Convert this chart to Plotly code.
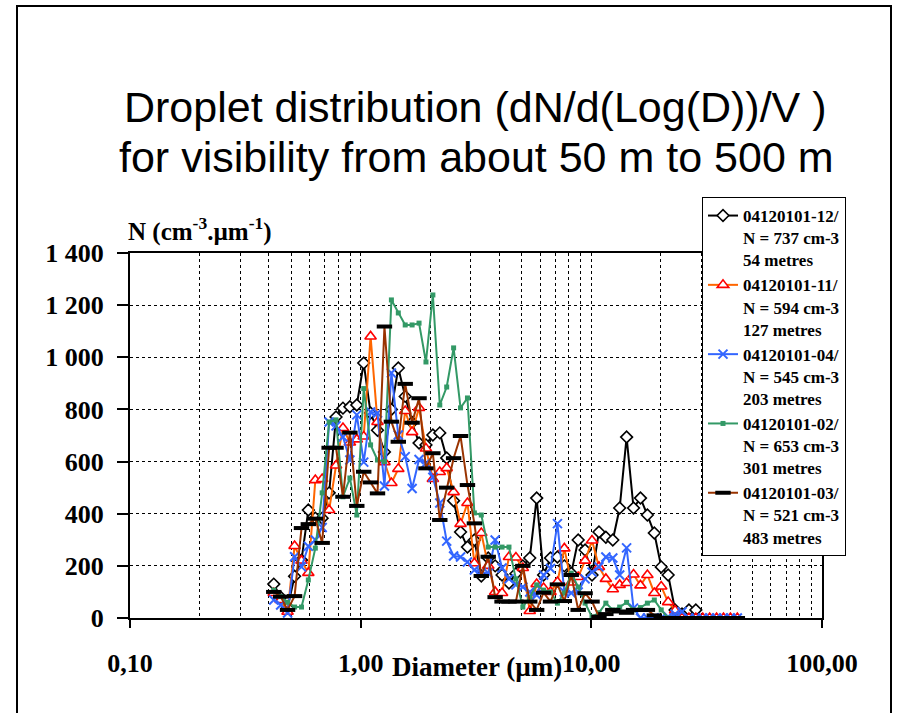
import plotly.graph_objects as go

# ---------------- data ----------------
diameters = [0.42, 0.45, 0.482, 0.517, 0.554, 0.593, 0.636, 0.681, 0.730, 0.782,
             0.838, 0.898, 0.962, 1.031, 1.104, 1.183, 1.268, 1.359, 1.456, 1.560,
             1.671, 1.791, 1.919, 2.056, 2.203, 2.360, 2.529, 2.710, 2.904, 3.112,
             3.334, 3.573, 3.828, 4.102, 4.395, 4.710, 5.047, 5.408, 5.794, 6.209,
             6.653, 7.129, 7.638, 8.185, 8.770, 9.397, 10.07, 10.79, 11.56, 12.39,
             13.27, 14.22, 15.24, 16.33, 17.50, 18.75, 20.09, 21.53, 23.07, 24.72,
             26.49, 28.38, 30.41, 32.58, 34.91, 37.41, 40.09, 42.95]

s12 = [130, 80, 40, 160, 222, 414, 383, 383, 480, 771,
       805, 810, 817, 978, 786, 720, 637, 800, 959, 850,
       750, 671, 664, 702, 710, 614, 450, 330, 272, 299,
       161, 230, 200, 165, 134, 170, 200, 230, 460, 165,
       230, 234, 200, 172, 299, 261, 165, 330, 310, 299,
       422, 694, 422, 460, 395, 326, 196, 165, 31, 15,
       31, 31, None, None, None, None, None, None]

s11 = [96, 69, 24, 276, 220, 173, 529, 533, 414, 585,
       729, 673, 685, 696, 1080, 752, 598, 518, 572, 794,
       713, 806, 650, 533, 560, 575, 483, 361, 441, 210,
       326, 200, 100, 96, 234, 232, 192, 27, 130, 115,
       100, 138, 267, 136, 157, 220, 297, 196, 150, 110,
       127, 134, 167, 125, 165, 96, 121, 61, 29, 0,
       0, 0, 0, 0, 0, 0, 0, 0]

s04 = [69, 50, 19, 235, 196, 275, 299, 347, 752, 737,
       694, 606, 779, 598, 790, 786, 506, 940, 702, 619,
       497, 608, 594, 540, 441, 295, 238, 234, 215, 184,
       175, 172, 299, 192, 150, 127, 119, 100, 88, 165,
       190, 362, 100, 96, 100, 150, 176, 196, 234, 230,
       165, 269, 38, 0, 0, 0, 0, 5, 15, 24,
       0, 0, 0, 0, 0, 0, 0, 0]

s02 = [107, 82, 60, 42, 42, 146, 268, 480, 752, 760,
       465, 537, 395, 880, 664, 606, 600, 1220, 1170, 1124,
       1124, 1131, 982, 1239, 817, 886, 1036, 806, 844, 403,
       395, 272, 272, 272, 272, 150, 42, 80, 127, 107,
       100, 57, 96, 172, 119, 57, 4, 20, 57, 31,
       42, 60, 31, 40, 57, 69, 31, 0, None, None,
       None, None, None, None, None, None, None, None]

s03 = [100, 82, 31, 84, 345, 360, 381, 288, 653, 653,
       465, 711, 430, 561, 520, 478, 1118, 753, 676, 898,
       749, 843, 574, 632, 376, 500, 613, 698, 510, 363,
       161, 235, 80, 63, 63, 63, 200, 63, 31, 97,
       63, 129, 65, 165, 31, 95, 63, 5, 15, 31,
       25, 20, 31, 31, 31, 10, 0, 0, 0, 0,
       0, 0, 0, 0, 0, 0, 0, 0]

series_names = [
    "04120101-12/<br>N = 737 cm-3<br>54 metres",
    "04120101-11/<br>N = 594 cm-3<br>127 metres",
    "04120101-04/<br>N = 545 cm-3<br>203 metres",
    "04120101-02/<br>N = 653 cm-3<br>301 metres",
    "04120101-03/<br>N = 521 cm-3<br>483 metres",
]
series_values = [s12, s11, s04, s02, s03]

x_tickvals = [0.1, 1, 10, 100]
x_ticktext = ["0,10", "1,00", "10,00", "100,00"]
x_minorvals = [0.2, 0.3, 0.4, 0.5, 0.6, 0.7, 0.8, 0.9,
               2, 3, 4, 5, 6, 7, 8, 9,
               20, 30, 40, 50, 60, 70, 80, 90]
y_tickvals = [0, 200, 400, 600, 800, 1000, 1200, 1400]
y_ticktext = ["0", "200", "400", "600", "800", "1 000", "1 200", "1 400"]

# ---------------- styles ----------------
styles = [
    dict(line=dict(color="black", width=2),
         marker=dict(symbol="diamond", size=9, color="white",
                     line=dict(color="black", width=1.6))),
    dict(line=dict(color="#FF6600", width=2),
         marker=dict(symbol="triangle-up", size=10, color="white",
                     line=dict(color="#FF0000", width=1.6))),
    dict(line=dict(color="#3366FF", width=2),
         marker=dict(symbol="x-thin", size=9, color="#3366FF",
                     line=dict(color="#3366FF", width=2))),
    dict(line=dict(color="#339966", width=2),
         marker=dict(symbol="square", size=5, color="#339966",
                     line=dict(color="#339966", width=0))),
    dict(line=dict(color="#993300", width=2),
         marker=dict(symbol="line-ew", size=11, color="black",
                     line=dict(color="black", width=4))),
]

fig = go.Figure()
for name, vals, st in zip(series_names, series_values, styles):
    fig.add_trace(go.Scatter(
        x=diameters, y=vals, name=name, mode="lines+markers",
        line=st["line"], marker=st["marker"], connectgaps=False,
    ))

W, H = 897, 713
L, R, T, B = 130, 75, 253, 95
pw, ph = W - L - R, H - T - B


def px2paper_x(px):
    return (px - L) / pw


def px2paper_y(py):
    return (H - B - py) / ph


serif = "Liberation Serif"
sans = "Liberation Sans"
grid_dash = "3px,3px"

fig.update_layout(
    width=W, height=H,
    margin=dict(l=L, r=R, t=T, b=B, pad=0),
    paper_bgcolor="white", plot_bgcolor="white",
    hovermode=False,
    showlegend=True,
    legend=dict(
        x=px2paper_x(702), y=px2paper_y(197), xanchor="left", yanchor="top",
        bgcolor="white", bordercolor="black", borderwidth=1,
        font=dict(family=serif, size=17, color="black", weight="bold"),
        tracegroupgap=0, valign="top", maxheight=600,
    ),
    xaxis=dict(
        type="log", range=[-1, 2],
        tickmode="array", tickvals=x_tickvals, ticktext=x_ticktext,
        tickfont=dict(family=serif, size=26, color="black", weight="bold"),
        ticks="outside", ticklen=8, tickwidth=1.5, tickcolor="black",
        ticklabelstandoff=13,
        showline=True, linecolor="black", linewidth=2, mirror=True,
        showgrid=True, gridcolor="black", gridwidth=1, griddash=grid_dash,
        minor=dict(tickmode="array", tickvals=x_minorvals, ticks="",
                   showgrid=True, gridcolor="black", gridwidth=1,
                   griddash=grid_dash),
        zeroline=False,
    ),
    yaxis=dict(
        range=[0, 1400],
        tickmode="array", tickvals=y_tickvals, ticktext=y_ticktext,
        tickfont=dict(family=serif, size=26, color="black", weight="bold"),
        ticks="outside", ticklen=11, tickwidth=1.5, tickcolor="black",
        ticklabelstandoff=8,
        showline=True, linecolor="black", linewidth=2, mirror=True,
        showgrid=True, gridcolor="black", gridwidth=1, griddash=grid_dash,
        zeroline=False,
    ),
    annotations=[
        dict(text="Droplet distribution (dN/d(Log(D))/V )",
             xref="paper", yref="paper", x=px2paper_x(475), y=px2paper_y(107),
             xanchor="center", yanchor="middle", showarrow=False,
             font=dict(family=sans, size=43, color="black")),
        dict(text="for visibility from about 50 m to 500 m",
             xref="paper", yref="paper", x=px2paper_x(476), y=px2paper_y(157),
             xanchor="center", yanchor="middle", showarrow=False,
             font=dict(family=sans, size=43, color="black")),
        dict(text="N (cm<sup>-3</sup>.µm<sup>-1</sup>)",
             xref="paper", yref="paper", x=px2paper_x(126), y=px2paper_y(229),
             xanchor="left", yanchor="middle", showarrow=False,
             font=dict(family=serif, size=25, color="black", weight="bold")),
        dict(text="Diameter (µm)",
             xref="paper", yref="paper", x=px2paper_x(477), y=px2paper_y(667),
             xanchor="center", yanchor="middle", showarrow=False,
             font=dict(family=serif, size=27, color="black", weight="bold")),
    ],
    shapes=[
        dict(type="rect", xref="paper", yref="paper",
             x0=px2paper_x(17), x1=px2paper_x(891),
             y0=px2paper_y(730), y1=px2paper_y(6),
             line=dict(color="black", width=2), fillcolor="rgba(0,0,0,0)",
             layer="above"),
    ],
)

fig.write_html("out.html")
